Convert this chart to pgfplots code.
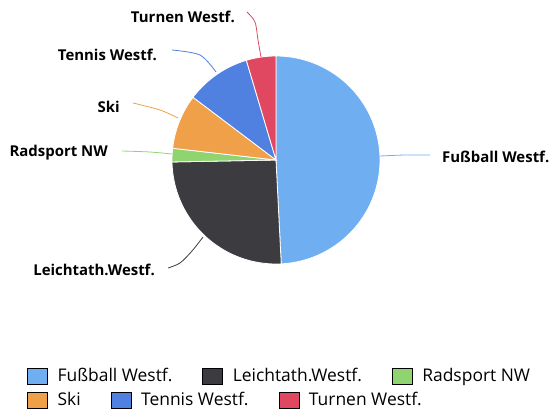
\documentclass[border=0pt]{standalone}
\usepackage{pgfplots}
\pgfplotsset{compat=1.18}
\usepackage{fontspec}
\setmainfont{Open Sans}
\definecolor{cFus}{HTML}{6FAEF0}
\definecolor{cLei}{HTML}{3C3C40}
\definecolor{cRad}{HTML}{8FD470}
\definecolor{cSki}{HTML}{F0A048}
\definecolor{cTen}{HTML}{5080E0}
\definecolor{cTur}{HTML}{E04862}
\pgfplotsset{
  base/.style={hide axis, scale only axis, width=553bp, height=417bp,
    xmin=0, xmax=553, ymin=0, ymax=417, y dir=reverse, clip=false},
  slice/.style={fill=#1, draw=white, line width=0.8bp, samples=80, forget plot},
  conn/.style={#1, line width=0.8bp, smooth, forget plot, no markers},
  sqleg/.style={legend image code/.code={\fill[##1] (0bp,-8bp) rectangle (20bp,8bp);}},
  legrow/.style={legend columns=-1, legend cell align=left,
    legend style={draw=none, fill=none, inner sep=0pt, font=\fontsize{17.5}{19}\selectfont,
      /tikz/every odd column/.append style={column sep=8bp},
      /tikz/every even column/.append style={column sep=28bp}}},
}
\begin{document}
\begin{tikzpicture}
\begin{axis}[base, legrow, legend style={at={(axis description cs:0.0488,0.0983)}, anchor=west}]
% slices: percentages, clockwise from top
\addplot[slice=cFus, domain=0:49.2] ({276+104*sin(3.6*x)},{160-104*cos(3.6*x)}) -- (axis cs:276,160) -- cycle;
\addplot[slice=cLei, domain=49.2:74.7] ({276+104*sin(3.6*x)},{160-104*cos(3.6*x)}) -- (axis cs:276,160) -- cycle;
\addplot[slice=cRad, domain=74.7:76.8] ({276+104*sin(3.6*x)},{160-104*cos(3.6*x)}) -- (axis cs:276,160) -- cycle;
\addplot[slice=cSki, domain=76.8:85.3] ({276+104*sin(3.6*x)},{160-104*cos(3.6*x)}) -- (axis cs:276,160) -- cycle;
\addplot[slice=cTen, domain=85.3:95.4] ({276+104*sin(3.6*x)},{160-104*cos(3.6*x)}) -- (axis cs:276,160) -- cycle;
\addplot[slice=cTur, domain=95.4:100] ({276+104*sin(3.6*x)},{160-104*cos(3.6*x)}) -- (axis cs:276,160) -- cycle;
% connectors
\addplot[conn=cFus] coordinates {(380,156) (405,155) (430,155)};
\addplot[conn=cLei] coordinates {(168,268) (180,263) (192,251) (203,237)};
\addplot[conn=cRad] coordinates {(122,151) (150,152) (172,154)};
\addplot[conn=cSki] coordinates {(133,103) (160,110) (178,118)};
\addplot[conn=cTen] coordinates {(172,50) (200,55) (216,72)};
\addplot[conn=cTur] coordinates {(247,12) (255,22) (258,40) (261,57)};
% data labels
\begin{scope}[font=\fontsize{15}{17}\selectfont\bfseries]
\node[anchor=west, inner sep=0pt] at (axis cs:442,157) {Fußball Westf.};
\node[anchor=east, inner sep=0pt] at (axis cs:155,270) {Leichtath.Westf.};
\node[anchor=east, inner sep=0pt] at (axis cs:108,153) {Radsport NW};
\node[anchor=east, inner sep=0pt] at (axis cs:120,107) {Ski};
\node[anchor=east, inner sep=0pt] at (axis cs:157,55) {Tennis Westf.};
\node[anchor=east, inner sep=0pt] at (axis cs:235,17) {Turnen Westf.};
\end{scope}
\addlegendimage{sqleg, fill=cFus}\addlegendentry{Fußball Westf.}
\addlegendimage{sqleg, fill=cLei}\addlegendentry{Leichtath.Westf.}
\addlegendimage{sqleg, fill=cRad}\addlegendentry{Radsport NW}
\end{axis}
\begin{axis}[base, legrow, legend style={at={(axis description cs:0.0488,0.0408)}, anchor=west}]
\addlegendimage{sqleg, fill=cSki}\addlegendentry{Ski}
\addlegendimage{sqleg, fill=cTen}\addlegendentry{Tennis Westf.}
\addlegendimage{sqleg, fill=cTur}\addlegendentry{Turnen Westf.}
\end{axis}
\pgfresetboundingbox
\path[use as bounding box] (current axis.south west) rectangle (current axis.north east);
\end{tikzpicture}
\end{document}
